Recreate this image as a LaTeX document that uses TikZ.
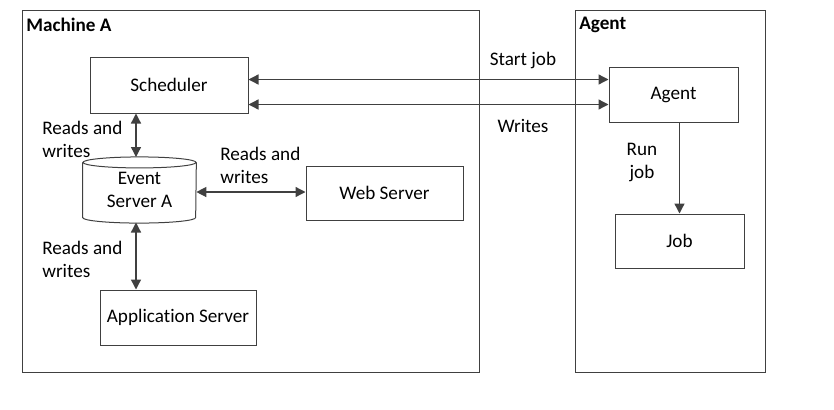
\documentclass[tikz,border=0pt]{standalone}
\usepackage{fontspec}
\setmainfont[Ligatures=NoCommon]{Carlito}
\usetikzlibrary{arrows.meta}
\definecolor{linegray}{HTML}{404040}
\begin{document}
\begin{tikzpicture}[x=0.6pt,y=-0.6pt,font=\fontsize{11.5}{13.8}\selectfont]

          % Definitions
          \tikzstyle{frame} = [rectangle, draw=linegray, line width=0.6pt]
          \tikzstyle{comp} = [rectangle, draw=linegray, line width=0.6pt, text centered]
          \tikzstyle{db} = [rectangle, inner sep=0pt, minimum width=67.8pt, minimum height=32.7pt, align=center]
          \tikzstyle{dbline} = [draw=linegray, line width=0.6pt]
          \tikzstyle{lbl} = [align=left, inner sep=0pt]
          \tikzstyle{arrow} = [line width=0.8pt, draw=linegray, {Triangle[length=6pt,width=6pt]}-{Triangle[length=6pt,width=6pt]}]
          \tikzstyle{onearrow} = [line width=0.8pt, draw=linegray, -{Triangle[length=6pt,width=6pt]}]

          \useasboundingbox (0,0) rectangle (834,409);

          % frames
          \node (machine) [frame, minimum width=274.8pt, minimum height=217.2pt] at (251,191) {};
          \node (agentbox) [frame, minimum width=114pt, minimum height=217.2pt] at (670,191) {};
          \node (machinelbl) [anchor=west, inner sep=0pt, font=\fontsize{11.5}{13.8}\selectfont\bfseries] at (26,25) {Machine A};
          \node (agentlbl) [anchor=west, inner sep=0pt, font=\fontsize{11.5}{13.8}\selectfont\bfseries] at (579,25) {Agent};

          % components
          \node (sched) [comp, minimum width=94.8pt, minimum height=33.6pt] at (169,85) {Scheduler};
          \node (event) [db] at (139.5,190) {Event\\Server A};
          \draw [dbline] (event.north) ellipse [x radius=33.9pt, y radius=3.3pt];
          \draw [dbline] (event.north west) -- (event.south west)
                arc [start angle=180, end angle=360, x radius=33.9pt, y radius=3.3pt] -- (event.north east);
          \node (web) [comp, minimum width=94.2pt, minimum height=32.4pt] at (384.5,193) {Web Server};
          \node (app) [comp, minimum width=93.6pt, minimum height=33pt] at (178,317.5) {Application Server};
          \node (agent) [comp, minimum width=77.4pt, minimum height=33pt] at (673.5,94.5) {Agent};
          \node (job) [comp, minimum width=77.4pt, minimum height=32.4pt] at (679.5,241) {Job};

          % helper coordinates
          \coordinate (startrow) at (0,79.5);
          \coordinate (writesrow) at (0,104.5);
          \coordinate (rwcol) at (136,0);
          \coordinate (webrow) at (0,192);
          \coordinate (eventtop) at (0,157);
          \coordinate (eventbot) at (0,222.5);

          \draw [arrow] (sched.east |- startrow) -- (agent.west |- startrow);
          \draw [arrow] (sched.east |- writesrow) -- (agent.west |- writesrow);
          \draw [arrow] (sched.south -| rwcol) -- (rwcol |- eventtop);
          \draw [arrow] (event.east |- webrow) -- (web.west |- webrow);
          \draw [arrow] (rwcol |- eventbot) -- (app.north -| rwcol);
          \draw [onearrow] (agent.south -| job.north) -- (job.north);

          % labels
          \node (startlbl) at (523,60) {Start job};
          \node (writeslbl) at (523,126) {Writes};
          \node (runlbl) [align=center, inner sep=0pt] at (642,162) {Run\\job};
          \node (rw1) [lbl, anchor=west] at (42,139) {Reads and\\writes};
          \node (rw2) [lbl, anchor=west] at (220,165) {Reads and\\writes};
          \node (rw3) [lbl, anchor=west] at (42,259) {Reads and\\writes};

        \end{tikzpicture}
\end{document}
